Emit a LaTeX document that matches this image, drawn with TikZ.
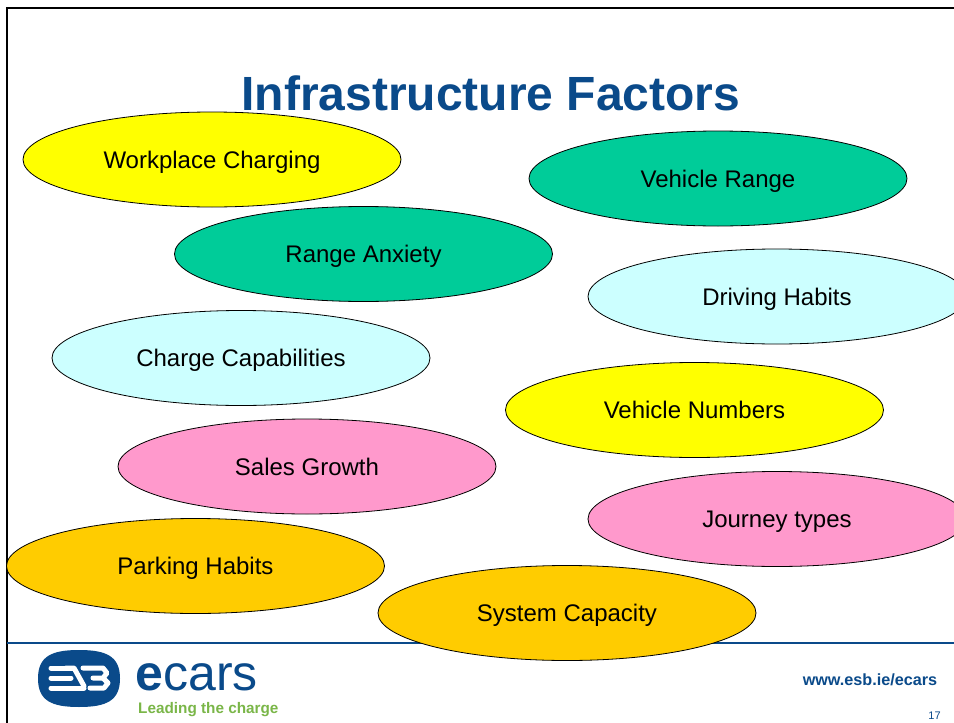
\documentclass[tikz,border=0pt]{standalone}
\usepackage{fontspec}
\setmainfont{Liberation Sans}
\usetikzlibrary{shapes.geometric}
\definecolor{esbblue}{HTML}{0A4A8A}
\definecolor{esbgreen}{HTML}{7AB648}
\definecolor{fillyellow}{HTML}{FFFF00}
\definecolor{fillgreen}{HTML}{00CC99}
\definecolor{fillcyan}{HTML}{CCFFFF}
\definecolor{fillpink}{HTML}{FF99CC}
\definecolor{fillorange}{HTML}{FFCC00}
\tikzstyle{factor}=[ellipse, draw=black, line width=0.8pt, inner sep=0pt, minimum width=378pt, minimum height=95pt, text height=21pt, text depth=4pt, font=\fontsize{24}{26}\selectfont]
\tikzstyle{frameline}=[draw=black, line width=2pt]
\tikzstyle{rule}=[draw=esbblue, line width=1.6pt]
\tikzstyle{esbbar}=[draw=white, line width=5pt, line cap=round, line join=round]
\newcommand{\factor}{\node[factor]}
\begin{document}
\begin{tikzpicture}[x=1pt, y=-1pt]
\useasboundingbox (0,0) rectangle (954,723);
\fill[white] (0,0) rectangle (954,723);
\coordinate (tl) at (7,8);
\coordinate (tr) at (954,8);
\coordinate (bl) at (7,723);
\coordinate (rl) at (7,643);
\coordinate (rr) at (954,643);
\draw[frameline] (tr) -- (tl) -- (bl);
\draw[rule] (rl) -- (rr);
\node[text=esbblue, font=\fontsize{48}{50}\selectfont\bfseries] (title) at (491,93) {Infrastructure Factors};
\factor[fill=fillyellow] (workplace) at (212,159.5) {Workplace Charging};
\factor[fill=fillgreen] (range) at (718,178.5) {Vehicle Range};
\factor[fill=fillgreen] (anxiety) at (363.5,254) {Range Anxiety};
\factor[fill=fillcyan] (driving) at (777,296.5) {Driving Habits};
\factor[fill=fillcyan] (capable) at (241,358) {Charge Capabilities};
\factor[fill=fillyellow] (numbers) at (694.5,410) {Vehicle Numbers};
\factor[fill=fillpink] (sales) at (307,466.5) {Sales Growth};
\factor[fill=fillpink] (journey) at (777,519) {Journey types};
\factor[fill=fillorange] (parking) at (195.5,566) {Parking Habits};
\factor[fill=fillorange] (system) at (567,613) {System Capacity};
% logo
\fill[esbblue] (38,678.5) .. controls (38,656) and (52,650) .. (79,650) .. controls (106,650) and (120,656) .. (120,678.5) .. controls (120,701) and (106,707) .. (79,707) .. controls (52,707) and (38,701) .. (38,678.5) -- cycle;
\draw[esbbar] (51,668) -- (73,668);
\draw[esbbar] (51,678) -- (71,678);
\draw[esbbar] (51,688) -- (84,688);
\draw[esbbar] (66,668) -- (74,668) -- (84,686);
\draw[esbbar] (83,668) -- (103,668) -- (107,673) -- (103,678) -- (93,678);
\draw[esbbar] (103,678) -- (108,683) -- (104,688) -- (90,688);
\node[text=esbblue, anchor=base west, inner sep=0pt, font=\fontsize{50}{52}\selectfont\bfseries] (e) at (135,690) {e};
\node[text=esbblue, anchor=base west, inner sep=0pt, font=\fontsize{50}{52}\selectfont] (cars) at (e.base east) {cars};
\node[text=esbgreen, anchor=base west, inner sep=0pt, font=\fontsize{15.3}{18}\selectfont\bfseries] (slogan) at (138,713) {Leading the charge};
\node[text=esbblue, font=\fontsize{16.2}{18}\selectfont\bfseries] (url) at (870,680) {www.esb.ie/ecars};
\node[text=esbblue, font=\fontsize{11}{12}\selectfont] (page) at (934.5,716) {17};
\end{tikzpicture}
\end{document}
